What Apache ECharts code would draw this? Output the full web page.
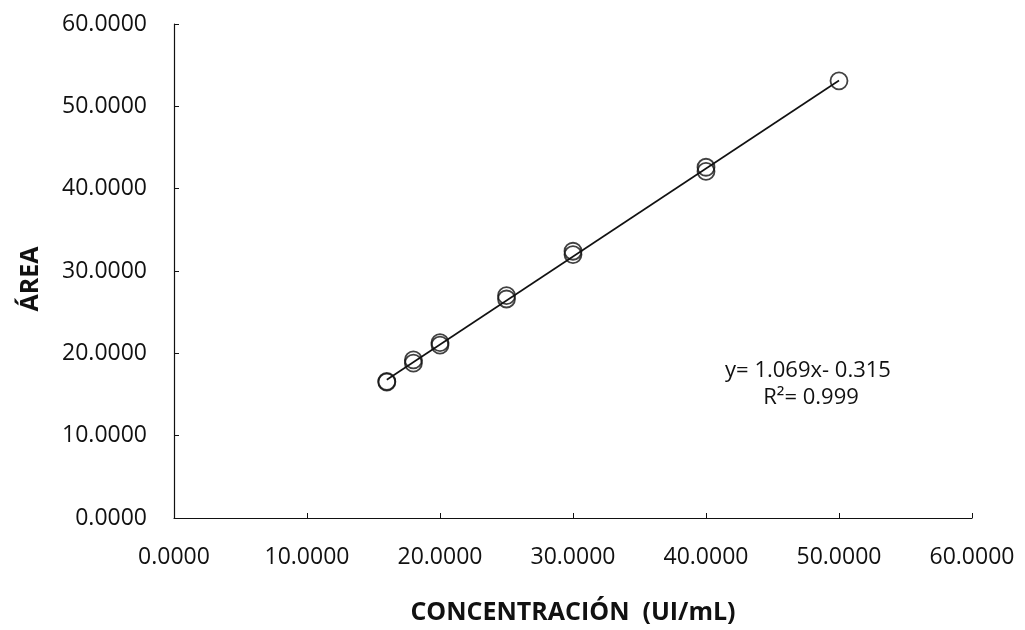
<!DOCTYPE html>
<html>
<head>
<meta charset="utf-8">
<script src="https://cdn.jsdelivr.net/npm/echarts@6/dist/echarts.min.js"></script>
<style>
  html, body { margin: 0; padding: 0; background: #fff; }
  #chart { width: 1025px; height: 630px; }
</style>
</head>
<body>
<div id="chart"></div>
<script>
// Calibration data: concentration (UI/mL) vs peak area, duplicate injections
const concentration = [16, 16, 18, 18, 20, 20, 25, 25, 30, 30, 40, 40, 50];
const area = [16.5, 16.6, 18.8, 19.2, 21.0, 21.3, 26.6, 27.0, 32.0, 32.4, 42.1, 42.6, 53.1];

// Least-squares fit reported on the chart
const slope = 1.069;
const intercept = -0.315;
const r2 = 0.999;
const fitRange = [16, 50];

// Axis ticks
const xTicks = [0, 10, 20, 30, 40, 50, 60];
const yTicks = [0, 10, 20, 30, 40, 50, 60];

const points = concentration.map((c, i) => [c, area[i]]);
const fitLine = fitRange.map(x => [x, slope * x + intercept]);

const font = '"Open Sans", Lato, sans-serif';

const chart = echarts.init(document.getElementById('chart'));
chart.setOption({
  animation: false,
  backgroundColor: '#fff',
  grid: { left: 174, right: 53, top: 24, bottom: 111 },
  xAxis: {
    type: 'value',
    min: xTicks[0], max: xTicks[xTicks.length - 1], interval: 10,
    name: 'CONCENTRACIÓN  (UI/mL)',
    nameLocation: 'middle',
    nameGap: 82,
    nameTextStyle: { fontFamily: font, fontSize: 25, fontWeight: 'bold', color: '#111' },
    axisLine: { lineStyle: { color: '#111', width: 1.2 } },
    axisTick: { inside: true, length: 5, lineStyle: { color: '#111' } },
    axisLabel: { fontFamily: font, fontSize: 23, color: '#111', margin: 28,
      formatter: v => v.toFixed(4) },
    splitLine: { show: false }
  },
  yAxis: {
    type: 'value',
    min: yTicks[0], max: yTicks[yTicks.length - 1], interval: 10,
    axisLine: { show: true, lineStyle: { color: '#111', width: 1.2 } },
    axisTick: { show: true, inside: true, length: 5, lineStyle: { color: '#111' } },
    axisLabel: { fontFamily: font, fontSize: 23, color: '#111', margin: 27,
      formatter: v => v.toFixed(4) },
    splitLine: { show: false }
  },
  series: [
    {
      type: 'line',
      data: fitLine,
      symbol: 'none',
      lineStyle: { color: '#111', width: 1.6 },
      z: 2
    },
    {
      type: 'scatter',
      data: points,
      symbol: 'circle',
      symbolSize: 17,
      itemStyle: { color: 'rgba(255,255,255,0)', borderColor: '#111', borderWidth: 1.8 },
      z: 3
    }
  ],
  graphic: [
    {
      // y-axis title
      type: 'text',
      x: 31, y: 279, rotation: Math.PI / 2,
      style: {
        x: 0, y: 0, align: 'center', verticalAlign: 'middle',
        text: 'ÁREA', fontFamily: font, fontSize: 25, fontWeight: 'bold', fill: '#111'
      }
    },
    {
      type: 'text',
      style: {
        x: 808, y: 371, align: 'center', verticalAlign: 'middle',
        text: 'y= ' + slope.toFixed(3) + 'x- ' + Math.abs(intercept).toFixed(3),
        fontFamily: font, fontSize: 22, fill: '#111'
      }
    },
    {
      type: 'text',
      style: {
        x: 811, y: 398, align: 'center', verticalAlign: 'middle',
        text: 'R²= ' + r2.toFixed(3), fontFamily: font, fontSize: 22, fill: '#111'
      }
    }
  ]
});
</script>
</body>
</html>
